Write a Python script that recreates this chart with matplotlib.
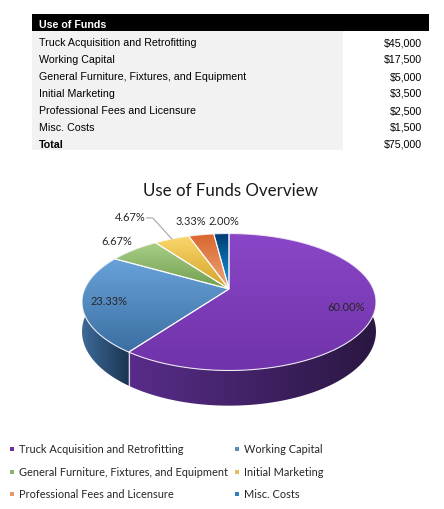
import numpy as np
import matplotlib.pyplot as plt
from matplotlib.patches import Polygon, Rectangle
from matplotlib.colors import to_rgb

categories = ["Truck Acquisition and Retrofitting", "Working Capital",
              "General Furniture, Fixtures, and Equipment", "Initial Marketing",
              "Professional Fees and Licensure", "Misc. Costs"]
amounts = [45000, 17500, 5000, 3500, 2500, 1500]

# top face gradient (upper colour, lower colour) and side gradient (left, right)
top_colors = [("#8A46C7", "#7033AA"), ("#68A2D9", "#3C6FA3"), ("#A8CF87", "#729E50"),
              ("#FAD66A", "#D2A32A"), ("#D9652C", "#EDA77C"), ("#003B73", "#1A9BE0")]
side_colors = [("#582C8A", "#2A1742"), ("#3D6A98", "#1B3552"), ("#5E7F42", "#3E5A2A"),
               ("#B08A20", "#7E6212"), ("#B05A2A", "#7A3A18"), ("#0B5C96", "#06345A")]
legend_colors = ["#7030A0", "#5B8DB8", "#8DB56A", "#E8C05A", "#E39B6B", "#2E7EC0"]

# label placement: inside labels use radius factor, outside ones a pixel offset from the rim
label_inside = [0.81, 0.82, None, None, None, None]
label_offset = [None, None, (-17, -9), (-42, -22), (-10, -14), (3, -13)]
label_leader = [False, False, False, True, False, False]

W, H = 444, 510
fig = plt.figure(figsize=(W / 100, H / 100), dpi=100)
ax = fig.add_axes([0, 0, 1, 1])
ax.set_xlim(0, W)
ax.set_ylim(H, 0)
ax.axis("off")

# ---- table ----
tfont = dict(family="Liberation Sans", fontsize=7.7, color="black", va="center")
ax.add_patch(Rectangle((32, 32), 311, 119, facecolor="#F2F2F2", edgecolor="none"))
ax.add_patch(Rectangle((32, 15), 397, 17, facecolor="black", edgecolor="none"))
ax.text(39, 24.5, "Use of Funds", fontweight="bold", **{**tfont, "color": "white"})
row_y = 43
for name, amt in zip(categories, amounts):
    ax.text(39, row_y, name, **tfont)
    ax.text(422, row_y, f"${amt:,.0f}", ha="right", **tfont)
    row_y += 17
ax.text(39, row_y, "Total", fontweight="bold", **tfont)
ax.text(422, row_y, f"${sum(amounts):,.0f}", ha="right", **tfont)

# ---- 3D pie (simple perspective of a disc) ----
A = 0.19            # perspective strength
VX, VY = 229, 290   # projected centre of the disc
SX, SY = 144.3, 66.0
DEPTH = 28.5


def project(theta, r=1.0, drop=0.0):
    u = r * np.sin(theta)
    v = r * np.cos(theta)
    w = 1 + A * v
    return VX + SX * u / w, VY - SY * v / w + drop / w


def gradient_fill(poly_xy, c1, c2, horizontal=False, z=1):
    patch = Polygon(poly_xy, closed=True, facecolor="none", edgecolor="none",
                    transform=ax.transData)
    ax.add_patch(patch)
    x0, y0 = poly_xy.min(axis=0)
    x1, y1 = poly_xy.max(axis=0)
    t = np.linspace(0, 1, 64)
    cols = np.array([np.array(to_rgb(c1)) * (1 - s) + np.array(to_rgb(c2)) * s for s in t])
    img = cols[np.newaxis, :, :] if horizontal else cols[:, np.newaxis, :]
    im = ax.imshow(img, extent=(x0, x1, y1, y0), origin="upper", aspect="auto",
                   interpolation="bilinear", zorder=z)
    im.set_clip_path(patch)


total = sum(amounts)
fracs = np.array(amounts) / total
bounds = np.concatenate([[0], np.cumsum(fracs)]) * 2 * np.pi

# sides first
for i in range(len(amounts)):
    th = np.linspace(bounds[i], bounds[i + 1], 120)
    tx, ty = project(th)
    bx, by = project(th, drop=DEPTH)
    poly = np.column_stack([np.concatenate([tx, bx[::-1]]), np.concatenate([ty, by[::-1]])])
    gradient_fill(poly, *side_colors[i], horizontal=True, z=1)
    # white seam on the side where visible
    b = bounds[i]
    if np.cos(b) < 0:
        sx0, sy0 = project(b)
        sx1, sy1 = project(b, drop=DEPTH)
        ax.plot([sx0, sx1], [sy0, sy1], color="white", lw=0.8, alpha=0.8, zorder=2)

# top faces
for i in range(len(amounts)):
    th = np.linspace(bounds[i], bounds[i + 1], 120)
    tx, ty = project(th)
    poly = np.column_stack([np.concatenate([[VX], tx]), np.concatenate([[VY], ty])])
    gradient_fill(poly, *top_colors[i], z=3)
    ax.add_patch(Polygon(poly, closed=True, facecolor="none", edgecolor="white",
                         lw=0.8, alpha=0.85, zorder=4))

# data labels
lfont = dict(family="Lato", fontsize=7.9, color="#262626", zorder=5)
for i, f in enumerate(fracs):
    mid = (bounds[i] + bounds[i + 1]) / 2
    txt = f"{f * 100:.2f}%"
    if label_inside[i] is not None:
        lx, ly = project(mid, r=label_inside[i])
        ax.text(lx, ly, txt, ha="center", va="center", **lfont)
    else:
        rx, ry = project(mid)
        dx, dy = label_offset[i]
        lx, ly = rx + dx, ry + dy
        ax.text(lx, ly, txt, ha="center", va="center", **lfont)
        if label_leader[i]:
            ax.plot([lx + 17, lx + 23, rx], [ly + 1, ly + 1, ry], color="#A6A6A6",
                    lw=0.8, zorder=5)

ax.text(230, 191, "Use of Funds Overview", ha="center", va="center",
        family="Lato", fontsize=12.2, color="#1a1a1a")

# ---- legend ----
for i, name in enumerate(categories):
    row, col = divmod(i, 2)
    x = 12 + col * 225
    y = 450 + row * 22.5
    ax.add_patch(Rectangle((x - 2, y - 2), 4, 4, facecolor=legend_colors[i], edgecolor="none"))
    ax.text(x + 7, y, name, ha="left", va="center", family="Lato", fontsize=7.9,
            color="#262626")

fig.savefig("out.png", dpi=100)
